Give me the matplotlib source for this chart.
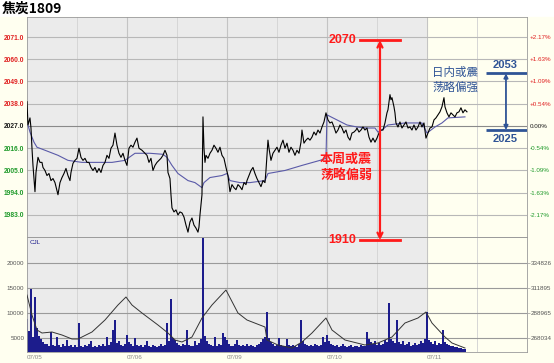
import matplotlib.pyplot as plt
import matplotlib.transforms as mtransforms
from matplotlib.patches import Rectangle

plt.rcParams['font.family'] = ['Liberation Sans', 'Noto Sans CJK SC', 'DejaVu Sans']

## Data (x = minute bar index, 100 bars per trading day)

day_labels = ["07/05", "07/06", "07/09", "07/10", "07/11"]
day_starts = [0, 100, 200, 300, 400]

price_ticks = [1983, 1994, 2005, 2016, 2027, 2038, 2049, 2060, 2071]
pct_labels = ["-2.17%", "-1.63%", "-1.09%", "-0.54%", "0.00%",
              "+0.54%", "+1.09%", "+1.63%", "+2.17%"]
base_price = 2027

price_bar = [0, 1, 3, 4, 5, 6, 8, 9, 11, 13, 15, 16, 18, 20, 22, 24, 26, 28, 31, 33,
             35, 37, 39, 41, 43, 44, 46, 48, 50, 52, 54, 56, 58, 60, 62, 64, 66, 68, 70, 72,
             74, 76, 78, 80, 82, 84, 86, 88, 90, 92, 94, 96, 98, 100, 102, 104, 106, 108,
             110, 112, 115, 117, 120, 122, 124, 126, 128, 130, 132, 134, 136, 138, 140, 141,
             143, 144, 145, 147, 149, 151, 153, 155, 157, 159, 161, 163, 165, 167, 169, 171,
             172, 173, 175, 176, 177, 178, 179, 181, 183, 185, 187, 189, 191, 193, 195, 197,
             199, 201, 203, 205, 207, 209, 211, 213, 215, 217, 219,
             220, 222, 224, 226, 228, 230, 232, 234, 236, 238, 239, 241, 242, 244, 246, 248,
             250, 252, 254, 256, 258, 260, 262, 264, 266, 268, 270, 272, 274, 275, 277, 279,
             281, 283, 285, 287, 289, 291, 293, 295, 297, 299, 301, 303, 305, 307, 309, 311,
             313, 315, 317, 319, 321, 323, 325, 327, 329,
             330, 332, 334, 336, 338, 340, 342, 344, 346, 348, 350, 352, 354, 356, 358, 360,
             361, 363, 364, 365, 367, 368, 369, 371, 373, 375, 377, 379, 381, 383, 385, 387,
             389, 391, 393, 395, 397, 399, 401, 403, 405, 407, 409, 411, 413, 415, 417, 418,
             420, 422, 424, 426, 428, 430, 432, 434, 436, 438, 440]
price = [2039, 2027.5, 2031, 2026, 2016, 2007.5, 1994.5, 2004, 2011.5, 2009, 2009, 2006.5,
         2005, 2002.5, 2003.5, 2000, 2001, 1999, 1993, 1999,
         2001.5, 2003.5, 2006, 2002.5, 2000, 2004, 2008.5, 2010, 2011, 2016, 2011.5, 2010,
         2011, 2009, 2009, 2006.5, 2005, 2006.5, 2004, 2006,
         2004, 2007.5, 2009, 2012.5, 2011, 2016, 2017.5, 2023.5, 2017.5, 2013.5, 2011.5,
         2013.5, 2010, 2007.5, 2016, 2017.5, 2016.5, 2019,
         2021, 2016, 2015, 2014, 2012.5, 2009, 2011, 2005, 2007.5, 2009, 2010, 2011, 2012.5,
         2015, 2012.5, 2004,
         2001, 1993, 1986.5, 1984.5, 1985.5, 1983, 1984.5, 1984, 1982, 1978, 1974.5, 1979.5,
         1981.5, 1978, 1976.5, 1974.5,
         1977, 1983, 1993, 2031.5, 2016, 2009, 2012.5, 2011, 2013.5, 2015, 2017.5, 2016,
         2014, 2016.5, 2012.5, 2011,
         2006.5, 2002.5, 1994.5, 1998, 1996.5, 1995.5, 1998, 1997, 1995.5, 1999, 1998,
         2000, 2002.5, 2005, 2006.5, 2003.5, 2001, 1999, 1997, 2000, 1999, 2005, 2020, 2016,
         2010, 2013.5, 2015,
         2016.5, 2014, 2017.5, 2020, 2016, 2018.5, 2014, 2016.5, 2015, 2012.5, 2015, 2013.5,
         2019, 2025, 2018.5, 2020,
         2021, 2020, 2021.5, 2024, 2022.5, 2025, 2023.5, 2026.5, 2029, 2033.5, 2030, 2028.5,
         2029, 2026.5, 2023.5, 2025,
         2027.5, 2026, 2023.5, 2025, 2021.5, 2020, 2023.5, 2024, 2025,
         2026, 2024, 2025, 2026.5, 2025, 2026, 2021.5, 2019, 2021, 2019, 2021, 2023.5, 2025,
         2025, 2028.5, 2033.5,
         2035, 2042.5, 2040, 2041, 2036.5, 2033.5, 2028.5, 2026.5, 2029, 2026, 2027.5, 2029,
         2026, 2026.5, 2025, 2027.5,
         2025, 2026.5, 2029, 2026.5, 2028.5, 2021, 2023.5, 2026, 2026.5, 2030, 2031, 2032.5,
         2034, 2036.5, 2041, 2036.5,
         2033.5, 2031.5, 2033.5, 2032.5, 2031.5, 2033.5, 2034, 2036, 2033.5, 2035, 2034]

avg_bar = [1, 3, 7, 10, 18, 31, 41, 55, 71, 85, 98, 108, 123, 136, 140, 145, 151, 161, 168,
           175, 177, 183, 195, 200, 203, 213, 223, 238, 241, 258, 275, 293, 299, 300, 310,
           320, 330, 340, 348, 351, 355, 361, 378, 395, 400, 408, 415, 421, 438]
avg_price = [2027.5, 2024, 2019, 2016.5, 2015, 2012.5, 2010, 2009, 2009, 2009, 2010, 2013.5,
             2013.5, 2013, 2011.5, 2007.5, 2003.5, 2000, 1999, 1996.5, 1999, 2001.5, 2002.5,
             2003.5, 2000, 1999, 1999, 2000, 2003.5, 2005, 2007.5, 2010, 2011, 2032.5, 2030,
             2027.5, 2026.5, 2026, 2026, 2024, 2025, 2027.5, 2028.5, 2028.5, 2023.5, 2026.5,
             2028.5, 2031, 2031.5]

# volume, one value every 2 bars
vol = [8800, 6500, 14800, 5200, 13200, 7000, 5500, 4800, 4200, 3800,
       3900, 3500, 6200, 3700, 3400, 5200, 3600, 3300, 3800, 3500,
       4600, 3400, 3700, 3300, 3600, 3200, 8000, 3500, 3300, 3700,
       3400, 3800, 4400, 3300, 3500, 3200, 3600, 3400, 3900, 3500,
       5200, 3600, 4200, 6600, 8600, 4000, 4400, 3700, 3500, 3800,
       5600, 4200, 3800, 3500, 5000, 3600, 3400, 3700, 3300, 3600,
       4400, 3500, 3300, 3600, 3400, 3200, 3500, 3800, 3400, 3600,
       8000, 4500, 12800, 5000, 4600, 4000, 3700, 3500, 3800, 3600,
       6600, 3700, 3400, 3500, 4400, 3600, 4000, 4800, 26000, 5500,
       4400, 3800, 3600, 3400, 5200, 3500, 3800, 3600, 6000, 5200,
       4600, 3800, 3500, 3400, 3900, 4600, 3600, 3400, 3700, 3500,
       3800, 3400, 3600, 3500, 3300, 3700, 3900, 4200, 4800, 5200,
       10200, 5000, 4200, 3800, 3500, 3600, 5000, 3700, 3500, 3400,
       4800, 3600, 3400, 3700, 3500, 3300, 3800, 8600, 4400, 3800,
       3600, 3400, 3700, 3500, 3800, 3600, 3400, 3700, 5200, 4200,
       5600, 4400, 3800, 3600, 3400, 3600, 3300, 3500, 3800, 3400,
       3300, 3500, 3600, 3200, 3400, 3500, 3300, 3600, 3400, 3500,
       6200, 4800, 4200, 3800, 4400, 3600, 4000, 3700, 3900, 4600,
       4200, 12000, 4800, 4400, 4000, 8600, 4200, 3800, 4400, 3600,
       3800, 4200, 3500, 3700, 4000, 3600, 3800, 4400, 4000, 4800,
       10200, 4600, 4200, 3800, 4400, 3700, 4000, 3800, 6600, 4200,
       3800, 3600, 3500, 3400, 3300, 3200, 3100, 3000, 2900, 2800]
vol_bar = list(range(0, 2 * len(vol), 2))
vol_ticks = [5000, 10000, 15000, 20000]

oi_bar = [0, 5, 10, 15, 25, 35, 45, 51, 65, 78, 91, 99, 105, 115, 131, 141, 148, 155, 165,
          175, 185, 199, 211, 220, 238, 240, 251, 265, 275, 285, 299, 305, 318, 338, 351,
          365, 378, 391, 399, 405, 418, 425, 438]
oi = [306330, 288518, 275159, 272487, 273378, 270706, 267143, 267143, 273378, 284065,
      297424, 304549, 297424, 290299, 279612, 272487, 266253, 264472, 268925, 285846,
      297424, 310783, 290299, 284065, 277831, 266253, 261800, 259128, 264472, 272487,
      285846, 275159, 266253, 261800, 263581, 268925, 281393, 285846, 291190, 281393,
      268925, 263581, 259128]
oi_labels = ["268034", "288965", "311895", "334826"]

## Figure

red = '#ff1a1a'
blue = '#2f5496'
grey_bg = '#ebebeb'
cream = '#fffff0'

fig = plt.figure(figsize=(5.54, 3.63), dpi=100, facecolor='white')
fig.add_artist(Rectangle((0, 0), 1, 0.953, transform=fig.transFigure,
                         color=cream, zorder=-10))
fig.text(0.004, 0.995, "焦炭1809", ha='left', va='top', fontsize=10, weight='bold',
         family=['Noto Sans CJK SC'])

ax = fig.add_axes([0.0487, 0.3471, 0.9025, 0.6061])
axv = fig.add_axes([0.0487, 0.0303, 0.9025, 0.3168])
ax.set_zorder(5)
axv.set_zorder(1)

for a in (ax, axv):
    a.set_facecolor(grey_bg)
    a.set_xlim(0, 500)
    a.axvspan(400, 500, color=cream, zorder=0)
    for b in [50, 150, 250, 350, 450]:
        a.axvline(b, color='#d6d6d6', lw=0.7, zorder=1)
    for b in day_starts[1:]:
        a.axvline(b, color='#c4c4c4', lw=0.8, zorder=1)
    for s in a.spines.values():
        s.set_color('#9a9a9a')
        s.set_linewidth(0.6)

## Price panel

ax.set_ylim(1972.1, 2080.9)
for t in price_ticks:
    ax.axhline(t, color='#8a8a8a' if t == base_price else '#b8b8b8', lw=0.8, zorder=1)

ax.plot(avg_bar, avg_price, color='#5a5aa8', lw=0.8, zorder=3)
ax.plot(price_bar, price, color='black', lw=0.8, zorder=4)

ax.set_xticks([])
ax.set_yticks(price_ticks)
ax.set_yticklabels([f"{t:.1f}" for t in price_ticks])
ax.tick_params(axis='y', length=0, pad=2, labelsize=4.8)
for lab, t in zip(ax.get_yticklabels(), price_ticks):
    lab.set_color('#1a1a1a' if t == base_price else ('#e02020' if t > base_price else '#1f9a2a'))
    lab.set_weight('bold')

axr = ax.twinx()
axr.set_zorder(6)
axr.set_ylim(ax.get_ylim())
axr.set_yticks(price_ticks)
axr.set_yticklabels(pct_labels)
axr.tick_params(axis='y', length=0, pad=2, labelsize=4.5)
for lab, t in zip(axr.get_yticklabels(), price_ticks):
    lab.set_color('#1a1a1a' if t == base_price else ('#e02020' if t > base_price else '#1f9a2a'))
for s in axr.spines.values():
    s.set_visible(False)

# weekly range annotation (red), reaching below the panel
trans = mtransforms.blended_transform_factory(ax.transData, ax.transAxes)
top_y, bot_y = 0.895, -0.014
ax.annotate('', xy=(353, top_y), xytext=(353, bot_y), xycoords=trans, textcoords=trans,
            arrowprops=dict(arrowstyle='<->', color=red, lw=1.6, mutation_scale=9,
                            shrinkA=0, shrinkB=0),
            annotation_clip=False, zorder=8)
for yy, txt in [(top_y, "2070"), (bot_y, "1910")]:
    ax.plot([333, 373], [yy, yy], transform=trans, color=red, lw=2, clip_on=False, zorder=8)
    ax.text(329, yy, txt, transform=trans, ha='right', va='center', color=red,
            fontsize=9, weight='bold', clip_on=False, zorder=8)
ax.text(319, 2006.7, "本周或震\n荡略偏弱", ha='center', va='center', color=red,
        fontsize=9.4, weight='bold', linespacing=1.15, family=['Noto Sans CJK SC'], zorder=8)

# intraday range annotation (blue)
ax.annotate('', xy=(479, 2053), xytext=(479, 2025),
            arrowprops=dict(arrowstyle='<|-|>', color=blue, lw=1.3, mutation_scale=6,
                            shrinkA=0, shrinkB=0), zorder=8)
for yy in [2053, 2025]:
    ax.plot([459, 500], [yy, yy], color=blue, lw=2, zorder=8, solid_capstyle='butt')
ax.text(478, 2054.8, "2053", ha='center', va='bottom', color=blue, fontsize=8,
        weight='bold', zorder=8)
ax.text(478, 2023.2, "2025", ha='center', va='top', color=blue, fontsize=8,
        weight='bold', zorder=8)
ax.text(428, 2049.7, "日内或震\n荡略偏强", ha='center', va='center', color=blue,
        fontsize=8.3, linespacing=1.15, family=['Noto Sans CJK SC'], zorder=8)

## Volume / open interest panel

vol_lo, vol_hi = 2200, 25200
axv.set_ylim(vol_lo, vol_hi)
for t in vol_ticks:
    axv.axhline(t, color='#9a9a9a', lw=0.8, zorder=1)
axv.bar(vol_bar, vol, width=2.0, color='#1c1c8c', linewidth=0, zorder=2)
axv.set_yticks(vol_ticks)
axv.tick_params(axis='y', length=0, pad=2, labelsize=4.5, labelcolor='#555555')
axv.set_xticks(day_starts)
axv.set_xticklabels(day_labels, ha='left')
axv.tick_params(axis='x', length=0, pad=2, labelsize=4.5, labelcolor='#888888')
axv.text(0.005, 0.975, "CJL", transform=axv.transAxes, ha='left', va='top',
         fontsize=4.5, color='#1c1c8c')

oi_lo, oi_hi = 255566, 357981
axo = axv.twinx()
axo.set_zorder(2)
axo.set_ylim(oi_lo, oi_hi)
axo.plot(oi_bar, oi, color='#333333', lw=0.7, zorder=3)
oi_pos = [oi_lo + (v - vol_lo) * (oi_hi - oi_lo) / (vol_hi - vol_lo) for v in vol_ticks]
axo.set_yticks(oi_pos)
axo.set_yticklabels(oi_labels)
axo.tick_params(axis='y', length=2, width=0.5, color='#9a9a9a', pad=1,
                labelsize=4.5, labelcolor='#555555')
for s in axo.spines.values():
    s.set_visible(False)

fig.savefig("out.png", dpi=100, facecolor=fig.get_facecolor())
